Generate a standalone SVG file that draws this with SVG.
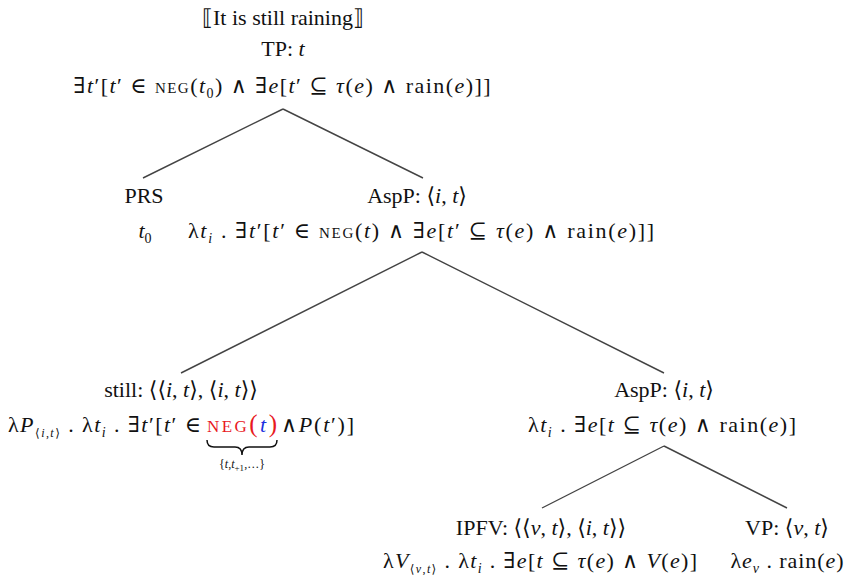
<svg xmlns="http://www.w3.org/2000/svg" width="848" height="575" viewBox="0 0 848 575">
<style>
text{font-family:"Liberation Serif","DejaVu Serif",serif;font-size:22px;fill:#111;}
.i{font-style:italic;}
.sc{font-size:15px;}
.sub{font-size:14px;}
.ss{font-size:12px;}
.red{fill:#e8191e;}
.blue{fill:#1a2fe0;}
.big{font-size:25px;}
.edge{stroke:#444;stroke-width:1.4;fill:none;}
</style>
<rect width="848" height="575" fill="#fff"/>
<g id="connectors">
<path class="edge" d="M283,109 L143,178 M283,109 L423,178"/>
<path class="edge" d="M422,252 L181,373 M422,252 L664,373"/>
<path class="edge" d="M664,446 L542,508 M664,446 L787,508"/>
</g>
<g id="tp" text-anchor="middle">
<text x="283" y="25">⟦It is still raining⟧</text>
<text x="283" y="56">TP: <tspan class="i">t</tspan></text>
<text x="282" y="93" textLength="417" lengthAdjust="spacing">∃<tspan class="i">t</tspan>′[<tspan class="i">t</tspan>′ ∈ <tspan class="sc">NEG</tspan>(<tspan class="i">t</tspan><tspan class="sub" dy="5">0</tspan><tspan dy="-5">) ∧ ∃</tspan><tspan class="i">e</tspan>[<tspan class="i">t</tspan>′ ⊆ <tspan class="i">τ</tspan>(<tspan class="i">e</tspan>) ∧ rain(<tspan class="i">e</tspan>)]]</text>
</g>
<g id="prs" text-anchor="middle">
<text x="144" y="203">PRS</text>
<text x="145" y="238"><tspan class="i">t</tspan><tspan class="sub" dy="5">0</tspan></text>
</g>
<g id="aspp1" text-anchor="middle">
<text x="417" y="203">AspP: ⟨<tspan class="i">i</tspan>, <tspan class="i">t</tspan>⟩</text>
<text x="421" y="238" textLength="466" lengthAdjust="spacing">λ<tspan class="i">t</tspan><tspan class="sub i" dy="5">i</tspan><tspan dy="-5"> . ∃</tspan><tspan class="i">t</tspan>′[<tspan class="i">t</tspan>′ ∈ <tspan class="sc">NEG</tspan>(<tspan class="i">t</tspan>) ∧ ∃<tspan class="i">e</tspan>[<tspan class="i">t</tspan>′ ⊆ <tspan class="i">τ</tspan>(<tspan class="i">e</tspan>) ∧ rain(<tspan class="i">e</tspan>)]]</text>
</g>
<g id="still">
<text x="181" y="397" text-anchor="middle">still: ⟨⟨<tspan class="i">i</tspan>, <tspan class="i">t</tspan>⟩, ⟨<tspan class="i">i</tspan>, <tspan class="i">t</tspan>⟩⟩</text>
<text x="8" y="432" textLength="193" lengthAdjust="spacing">λ<tspan class="i">P</tspan><tspan class="ss" dy="5">⟨<tspan class="i">i</tspan>,<tspan class="i">t</tspan>⟩</tspan><tspan dy="-5"> . λ</tspan><tspan class="i">t</tspan><tspan class="sub i" dy="5">i</tspan><tspan dy="-5"> . ∃</tspan><tspan class="i">t</tspan>′[<tspan class="i">t</tspan>′ ∈</text>
<text x="207" y="432" textLength="70" lengthAdjust="spacing"><tspan class="red" font-size="17">NEG</tspan><tspan class="red big">(</tspan><tspan class="i blue">t</tspan><tspan class="red big">)</tspan></text>
<text x="281" y="432" textLength="73" lengthAdjust="spacing">∧<tspan class="i">P</tspan>(<tspan class="i">t</tspan>′)]</text>
<path d="M207,440 Q207,447 214,447 L235,447 Q242,447 242,455 Q242,447 249,447 L270,447 Q277,447 277,440" fill="none" stroke="#111" stroke-width="1.5"/>
<text x="242" y="468" class="ss" text-anchor="middle">{<tspan class="i">t</tspan>,<tspan class="i">t</tspan><tspan dy="3" font-size="9">+1</tspan><tspan dy="-3">,…}</tspan></text>
</g>
<g id="aspp2" text-anchor="middle">
<text x="664" y="397">AspP: ⟨<tspan class="i">i</tspan>, <tspan class="i">t</tspan>⟩</text>
<text x="662" y="432" textLength="268" lengthAdjust="spacing">λ<tspan class="i">t</tspan><tspan class="sub i" dy="5">i</tspan><tspan dy="-5"> . ∃</tspan><tspan class="i">e</tspan>[<tspan class="i">t</tspan> ⊆ <tspan class="i">τ</tspan>(<tspan class="i">e</tspan>) ∧ rain(<tspan class="i">e</tspan>)]</text>
</g>
<g id="ipfv" text-anchor="middle">
<text x="541" y="535">IPFV: ⟨⟨<tspan class="i">v</tspan>, <tspan class="i">t</tspan>⟩, ⟨<tspan class="i">i</tspan>, <tspan class="i">t</tspan>⟩⟩</text>
<text x="540" y="568" textLength="314" lengthAdjust="spacing">λ<tspan class="i">V</tspan><tspan class="ss" dy="5">⟨<tspan class="i">v</tspan>,<tspan class="i">t</tspan>⟩</tspan><tspan dy="-5"> . λ</tspan><tspan class="i">t</tspan><tspan class="sub i" dy="5">i</tspan><tspan dy="-5"> . ∃</tspan><tspan class="i">e</tspan>[<tspan class="i">t</tspan> ⊆ <tspan class="i">τ</tspan>(<tspan class="i">e</tspan>) ∧ <tspan class="i">V</tspan>(<tspan class="i">e</tspan>)]</text>
</g>
<g id="vp" text-anchor="middle">
<text x="787" y="535">VP: ⟨<tspan class="i">v</tspan>, <tspan class="i">t</tspan>⟩</text>
<text x="787" y="568" textLength="113" lengthAdjust="spacing">λ<tspan class="i">e</tspan><tspan class="sub i" dy="5">v</tspan><tspan dy="-5"> . rain(</tspan><tspan class="i">e</tspan>)</text>
</g>
</svg>
